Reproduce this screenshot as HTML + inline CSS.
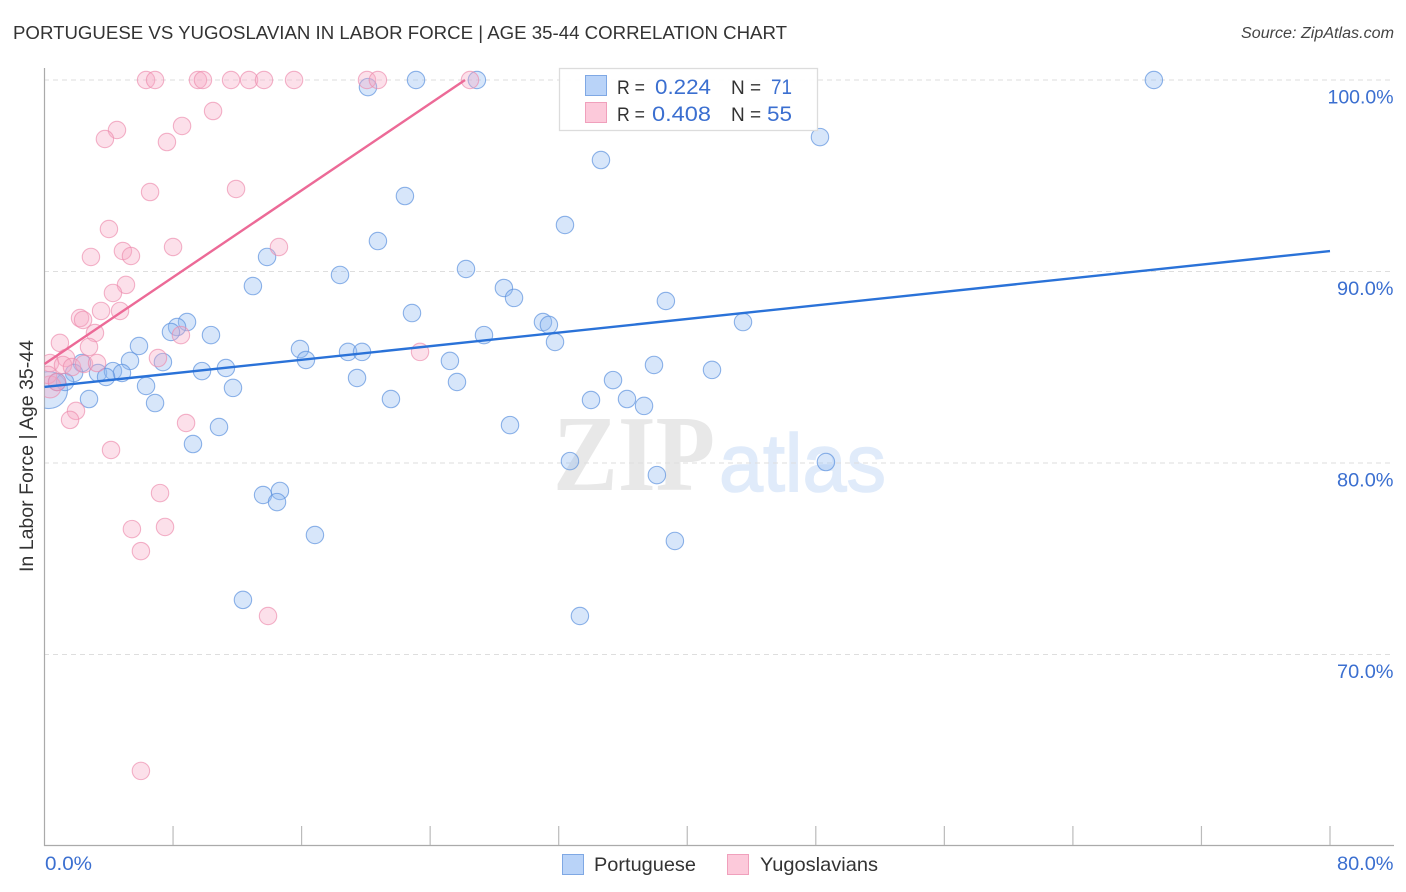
<!DOCTYPE html>
<html lang="en">
<head>
<meta charset="utf-8">
<title>Portuguese vs Yugoslavian in Labor Force | Age 35-44 Correlation Chart</title>
<style>
html,body{margin:0;padding:0;background:#fff;}
svg{display:block;font-family:"Liberation Sans",sans-serif;}
</style>
</head>
<body>
<svg id="chart" xmlns="http://www.w3.org/2000/svg" width="1406" height="892" viewBox="0 0 1406 892">
  <text x="13" y="39" font-size="18.5" fill="#333" textLength="774" lengthAdjust="spacingAndGlyphs">PORTUGUESE VS YUGOSLAVIAN IN LABOR FORCE | AGE 35-44 CORRELATION CHART</text>
  <text x="1241" y="38" font-size="15.5" font-style="italic" fill="#444" textLength="153" lengthAdjust="spacingAndGlyphs">Source: ZipAtlas.com</text>
  <text x="553" y="490" font-family="'Liberation Serif',serif" font-size="108" font-weight="bold" fill="#e8e8e8" textLength="162" lengthAdjust="spacingAndGlyphs">ZIP</text>
  <text x="719" y="491" font-family="'Liberation Sans',sans-serif" font-size="82" fill="#e0ebfa" stroke="#e0ebfa" stroke-width="1.5" textLength="167" lengthAdjust="spacingAndGlyphs">atlas</text>
  <g id="grid"></g>
  <g id="axes"></g>
  <g id="marks"></g>
  <g id="trends"></g>
  <text transform="translate(33,456) rotate(-90)" font-size="19" fill="#333" text-anchor="middle" textLength="232" lengthAdjust="spacingAndGlyphs">In Labor Force | Age 35-44</text>

  <g>
    <rect x="559.5" y="68.5" width="258" height="62" fill="#fff" fill-opacity="0.92" stroke="#dcdcdc" stroke-width="1.3"/>
    <rect x="585.5" y="75.5" width="21" height="20" fill="#b9d3f8" stroke="#7fa8e4"/>
    <rect x="585.5" y="102.5" width="21" height="20" fill="#fcc9da" stroke="#f0a0bc"/>
    <text x="617" y="94" font-size="19" fill="#333" textLength="28" lengthAdjust="spacingAndGlyphs">R =</text>
    <text x="655" y="94" font-size="21.5" fill="#3b6fd0" textLength="56" lengthAdjust="spacingAndGlyphs">0.224</text>
    <text x="731" y="94" font-size="19" fill="#333">N =</text>
    <text x="771" y="94" font-size="21.5" fill="#3b6fd0" textLength="21" lengthAdjust="spacingAndGlyphs">71</text>
    <text x="617" y="121" font-size="19" fill="#333" textLength="28" lengthAdjust="spacingAndGlyphs">R =</text>
    <text x="652" y="121" font-size="21.5" fill="#3b6fd0" textLength="59" lengthAdjust="spacingAndGlyphs">0.408</text>
    <text x="731" y="121" font-size="19" fill="#333">N =</text>
    <text x="767" y="121" font-size="21.5" fill="#3b6fd0" textLength="25" lengthAdjust="spacingAndGlyphs">55</text>
  </g>

  <g>
    <rect x="562.5" y="854.5" width="21" height="20" fill="#b9d3f8" stroke="#7fa8e4"/>
    <text x="594" y="871" font-size="19.5" fill="#333" textLength="102" lengthAdjust="spacingAndGlyphs">Portuguese</text>
    <rect x="727.5" y="854.5" width="21" height="20" fill="#fcc9da" stroke="#f0a0bc"/>
    <text x="760" y="871" font-size="19.5" fill="#333" textLength="118" lengthAdjust="spacingAndGlyphs">Yugoslavians</text>
  </g>
</svg>
<script>
const yTickValues = [100, 90, 80, 70];
const yTickLabels = ['100.0%', '90.0%', '80.0%', '70.0%'];
const xTickValues = [0, 8, 16, 24, 32, 40, 48, 56, 64, 72, 80];
const xEndValues = [0, 80];
const xEndLabels = ['0.0%', '80.0%'];

// The first point in each series is the large low-x cluster marker.
const portugueseX = [0.28,69.04,48.26,34.63,22.43,32.39,20.75,13.85,26.23,18.39,12.97,28.59,29.22,38.67,22.87,43.47,31.02,31.39,8.87,8.25,7.87,10.36,27.35,31.77,5.88,15.90,18.89,19.76,16.27,5.32,2.33,7.37,25.23,37.93,41.54,9.80,11.29,3.33,1.84,4.26,4.82,3.83,19.45,35.38,25.67,1.28,0.78,6.32,11.73,2.77,21.56,6.88,34.01,36.25,37.31,28.97,10.86,9.24,32.70,48.63,38.11,14.65,13.60,14.47,16.83,39.23,12.35,33.32,20.13,23.12,26.91];
const portugueseY = [83.81,100,97.02,95.82,93.94,92.43,91.59,90.76,90.13,89.82,89.24,89.14,88.62,88.46,87.83,87.36,87.36,87.21,87.36,87.10,86.84,86.68,86.68,86.32,86.11,85.95,85.80,85.80,85.38,85.33,85.22,85.27,85.33,85.12,84.86,84.80,84.96,84.70,84.70,84.80,84.70,84.49,84.44,84.33,84.23,84.23,84.23,84.02,83.92,83.34,83.34,83.13,83.29,83.34,82.98,81.98,81.88,80.99,80.10,80.05,79.37,78.54,78.33,77.96,76.24,75.93,72.85,72.01,99.63,100,100];

const yugoslavianX = [0.34,6.32,6.88,9.55,9.86,11.61,12.73,13.66,15.53,20.07,20.75,26.48,10.49,4.51,3.76,8.56,7.62,6.57,11.92,4.01,8.00,14.59,4.88,5.38,2.89,5.07,4.26,3.52,4.70,2.21,2.40,3.14,8.49,0.96,2.77,1.34,7.06,23.37,0.34,1.15,1.71,2.46,3.27,0.22,0.78,1.96,1.59,8.81,4.14,7.19,5.44,7.50,6.00,13.91,6.00];
const yugoslavianY = [83.97,100,100,100,100,100,100,100,100,100,100,100,98.38,97.39,96.92,97.60,96.76,94.15,94.31,92.22,91.28,91.28,91.07,90.81,90.76,89.30,88.88,87.94,87.94,87.57,87.47,86.79,86.68,86.27,86.06,85.48,85.48,85.80,85.22,85.12,85.01,85.17,85.22,84.60,84.23,82.72,82.25,82.09,80.68,78.43,76.55,76.66,75.40,72.01,63.92];

const portugueseTrendX = [0, 80];
const portugueseTrendY = [83.97, 91.07];
const yugoslavianTrendX = [0, 26.17];
const yugoslavianTrendY = [85.17, 100];

const NS = 'http://www.w3.org/2000/svg';
function xScale(v) { return 44.5 + v * (1285.5 / 80); }
function yScale(v) { return 80 + (100 - v) * 19.15; }
function labelWidth(text) { return 9.5 * text.length + 9; }
function make(tag, attrs, parent) {
  const el = document.createElementNS(NS, tag);
  for (const k in attrs) el.setAttribute(k, attrs[k]);
  parent.appendChild(el);
  return el;
}

const grid = document.getElementById('grid');
const axes = document.getElementById('axes');
const marks = document.getElementById('marks');
const trends = document.getElementById('trends');

yTickValues.forEach(function (v, i) {
  const line = make('line', {x1: 44, x2: 1394, y1: yScale(v), y2: yScale(v), stroke: '#dedede', 'stroke-width': 1, 'stroke-dasharray': '5 4'}, grid);
  
  
  const label = make('text', {x: 1393.5, y: yScale(v) + 23.5, 'font-size': 19.3, fill: '#3b6fd0', 'text-anchor': 'end', textLength: labelWidth(yTickLabels[i]), lengthAdjust: 'spacingAndGlyphs'}, axes);
  
  
  label.textContent = yTickLabels[i];
});

const yAxis = make('line', {x1: 44.5, x2: 44.5, y1: 68, y2: 846, stroke: '#aaa', 'stroke-width': 1.2}, axes);


const xAxis = make('line', {x1: 44, x2: 1394, y1: 845.5, y2: 845.5, stroke: '#aaa', 'stroke-width': 1.2}, axes);



xTickValues.forEach(function (v) {
  if (v === 0) return;
  const tick = make('line', {x1: xScale(v), x2: xScale(v), y1: 826, y2: 845, stroke: '#bbb', 'stroke-width': 1.2}, axes);
  
  
});

xEndValues.forEach(function (v, i) {
  const label = make('text', {x: i === 0 ? xScale(v) + 0.5 : 1393.5, y: 870, 'font-size': 19.3, fill: '#3b6fd0', 'text-anchor': i === 0 ? 'start' : 'end', textLength: labelWidth(xEndLabels[i]), lengthAdjust: 'spacingAndGlyphs'}, axes);
  
  
  label.textContent = xEndLabels[i];
});

const clip = make('clipPath', {id: 'plot-clip'}, document.getElementById('chart'));
make('rect', {x: 44.5, y: 60, width: 1350, height: 786}, clip);

portugueseX.forEach(function (v, i) {
  const dot = make('circle', {cx: xScale(v), cy: yScale(portugueseY[i]), r: i === 0 ? 18.5 : 8.7, fill: '#8fb9f2', 'fill-opacity': 0.36, stroke: '#5e93de', 'stroke-opacity': 0.7, 'stroke-width': 1.1, 'clip-path': 'url(#plot-clip)'}, marks);
  
  
});

yugoslavianX.forEach(function (v, i) {
  const dot = make('circle', {cx: xScale(v), cy: yScale(yugoslavianY[i]), r: i === 0 ? 11 : 8.7, fill: '#f8a9c4', 'fill-opacity': 0.36, stroke: '#ec8bac', 'stroke-opacity': 0.65, 'stroke-width': 1.1, 'clip-path': 'url(#plot-clip)'}, marks);
  
  
});

const blueTrend = make('line', {x1: xScale(portugueseTrendX[0]), y1: yScale(portugueseTrendY[0]), x2: xScale(portugueseTrendX[1]), y2: yScale(portugueseTrendY[1]), stroke: '#2a72d8', 'stroke-width': 2.4}, trends);


const pinkTrend = make('line', {x1: xScale(yugoslavianTrendX[0]), y1: yScale(yugoslavianTrendY[0]), x2: xScale(yugoslavianTrendX[1]), y2: yScale(yugoslavianTrendY[1]), stroke: '#ec6a97', 'stroke-width': 2.4}, trends);


</script>
</body>
</html>
